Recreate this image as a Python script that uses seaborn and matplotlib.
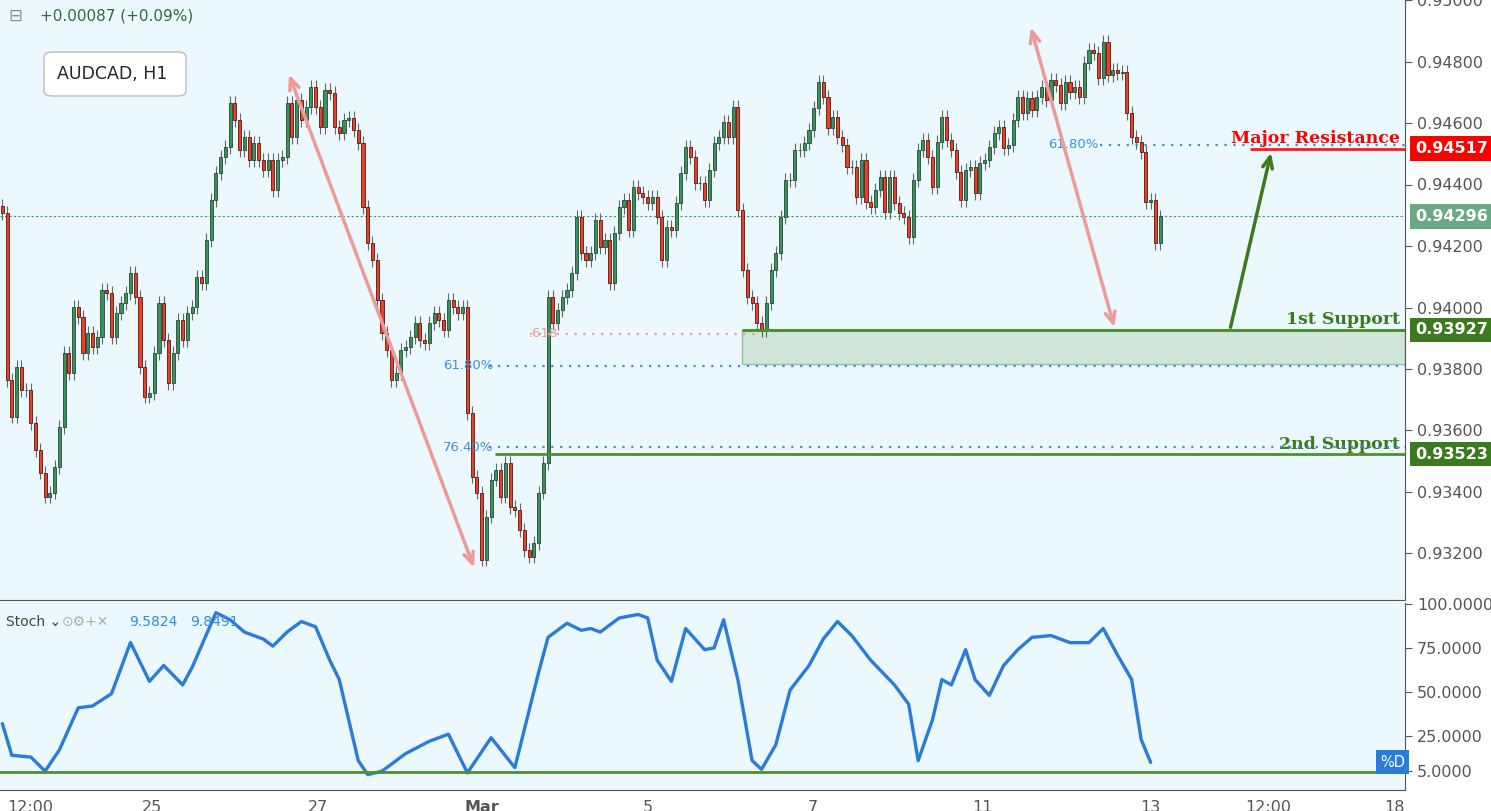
import numpy as np
import pandas as pd
import matplotlib
matplotlib.use("Agg")
import matplotlib.pyplot as plt
from matplotlib.patches import FancyBboxPatch, Rectangle
import seaborn as sns

# hourly-ish closes (AUDCAD H1), first open 0.94330
first_open = 0.94330
closes = [
    .94308, .93765, .93645, .93807, .93732, .93732, .93625, .93537, .93463, .93385,
    .93398, .93482, .93612, .93852, .93787, .94002, .93969, .93852, .93917, .93872,
    .93904, .94057, .94048, .93904, .93982, .94015, .94048, .94113, .94035, .93807,
    .93710, .93722, .93852, .94015, .93895, .93755, .93852, .93960, .93895, .93982,
    .94002, .94100, .94080, .94220, .94350, .94437, .94490, .94522, .94665, .94610,
    .94512, .94554, .94480, .94535, .94480, .94447, .94480, .94382, .94480, .94490,
    .94665, .94554, .94675, .94610, .94652, .94717, .94652, .94587, .94707, .94698,
    .94587, .94567, .94610, .94616, .94577, .94535, .94327, .94210, .94155, .94025,
    .93917, .93862, .93765, .93787, .93862, .93872, .93904, .93950, .93895, .93885,
    .93950, .93982, .93960, .93927, .94025, .94002, .93982, .94002, .93657, .93450,
    .93398, .93180, .93320, .93440, .93472, .93385, .93495, .93352, .93342, .93277,
    .93212, .93190, .93235, .93398, .93495, .94035, .93950, .93992, .94035, .94057,
    .94113,
    .94295, .94178, .94155, .94178, .94285, .94197, .94220, .94080, .94243, .94327,
    .94350, .94252, .94392, .94372, .94360, .94340, .94360, .94295, .94155, .94262,
    .94252, .94340, .94437, .94522, .94490, .94405, .94405, .94350, .94447, .94535,
    .94554, .94603, .94554, .94652, .94317, .94122, .94035, .94015, .93950, .93927,
    .94015, .94122, .94178, .94295, .94415, .94415, .94512, .94512, .94535, .94577,
    .94649, .94733, .94685, .94584, .94620, .94554, .94529, .94457, .94457, .94360,
    .94480, .94343, .94327, .94382, .94424, .94311, .94424, .94340, .94308, .94295,
    .94230, .94415, .94512, .94545, .94490, .94392, .94538, .94620, .94545, .94512,
    .94441, .94350, .94447, .94457, .94372, .94470, .94480, .94522, .94567, .94587,
    .94519, .94529, .94610, .94685, .94633, .94681, .94642, .94685, .94717, .94675,
    .94740, .94724, .94665, .94733, .94701, .94717, .94685, .94795, .94837, .94828,
    .94746, .94863, .94756, .94772, .94763, .94766, .94633, .94554, .94538, .94506,
    .94343, .94350, .94210, .94296,
]

# stochastic %K (bar index, value)
stoch_bar = [0, 2, 6, 9, 12, 16, 19, 23, 27, 31, 34, 38, 40, 45, 48, 51, 55, 57, 60, 63,
             66, 69, 71, 75, 77, 80, 85, 90, 94, 98, 103, 108, 113, 115, 119, 122, 124, 126,
             130, 134, 136, 138, 141, 144, 148, 150, 152, 155, 158, 160, 163, 166, 170, 173,
             176, 179, 183, 188, 191, 193, 196, 198, 200, 203, 205, 208, 211, 214, 217, 221,
             225, 229, 232, 235, 238, 240, 242]
stoch_val = [32, 14, 13, 5, 17, 41, 42, 49, 78, 56, 65, 54, 64, 95, 91, 84, 80, 76, 84, 90,
             87, 68, 57, 11, 3, 5, 15, 22, 26, 4, 24, 7, 61, 81, 89, 85, 86, 84,
             92, 94, 92, 68, 56, 86, 74, 75, 91, 57, 11, 6, 20, 51, 65, 80,
             90, 82, 68, 54, 43, 11, 34, 57, 54, 74, 57, 48, 65, 74, 81, 82,
             78, 78, 86, 71, 57, 23, 10]

tick_pos = [6.3, 32.0, 67.0, 101.6, 136.6, 171.3, 207.0, 242.4, 267.2, 293.8]
tick_lab = ["12:00", "25", "27", "Mar", "5", "7", "11", "13", "12:00", "18"]

price_ticks = [0.932, 0.934, 0.936, 0.938, 0.940, 0.942, 0.944, 0.946, 0.948, 0.950]
last_price = 0.94296
resistance = 0.94517
support1 = 0.93927
support2 = 0.93523
zone_low = 0.93815
fib618_low = 0.93810
fib764_low = 0.93545
fib618_high = 0.94530

bg = "#ebf8fe"
green = "#3d8f5f"
red = "#e5412b"
dkgreen = "#3b7a1f"
pink = "#ee9a9a"
blue = "#3f8fd6"

sns.set_style("white")
plt.rcParams["font.family"] = ["DejaVu Sans"]

fig = plt.figure(figsize=(14.91, 8.11), dpi=100)
fig.patch.set_facecolor("white")
ax = fig.add_axes([0, 1 - 600 / 811, 1405 / 1491, 600 / 811])
ax2 = fig.add_axes([0, 1 - 790 / 811, 1405 / 1491, 187 / 811], sharex=ax)
for a in (ax, ax2):
    a.set_facecolor(bg)
    for s in ["top", "left"]:
        a.spines[s].set_visible(False)
    a.spines["right"].set_color("#555555")
    a.spines["bottom"].set_color("#555555")

df = pd.DataFrame({"close": closes})
df["open"] = [first_open] + closes[:-1]
df["x"] = np.arange(len(df)) + 0.5
wick = 0.00022
df["high"] = df[["open", "close"]].max(axis=1) + wick
df["low"] = df[["open", "close"]].min(axis=1) - wick
up = df["close"] >= df["open"]

ax.vlines(df["x"], df["low"], df["high"], color="#666666", lw=0.8, zorder=2)
ax.bar(df["x"][up], (df["close"] - df["open"])[up], bottom=df["open"][up], width=0.65,
       color=green, edgecolor="#1f4d2f", lw=0.6, zorder=3)
ax.bar(df["x"][~up], (df["close"] - df["open"])[~up], bottom=df["open"][~up], width=0.65,
       color=red, edgecolor="#5a140c", lw=0.6, zorder=3)

xmax = 296.1
ax.set_xlim(0, xmax)
ax.set_ylim(0.95 - 600 / 30750, 0.95)

# levels
ax.axhline(last_price, color="#3f9a5f", lw=0.8, ls=(0, (2, 2)), zorder=1)
ax.add_patch(Rectangle((156.4, zone_low), xmax - 156.4, support1 - zone_low,
                       facecolor="#cfe6d8", edgecolor="#98bf9f", lw=1, zorder=1))
ax.hlines(support1, 156.4, xmax, color="#4f8f2f", lw=2.2, zorder=4)
ax.hlines(support2, 104.3, xmax, color="#4f8f2f", lw=2.0, zorder=4)
ax.hlines(fib618_low, 103.0, xmax, color=blue, lw=1.6, ls=(0, (1, 3)), zorder=4)
ax.hlines(fib764_low, 103.0, xmax, color=blue, lw=1.6, ls=(0, (1, 3)), zorder=4)
ax.hlines(0.93915, 111.7, 160.0, color=pink, lw=1.6, ls=(0, (1, 3)), zorder=4)
ax.hlines(fib618_high, 231.8, xmax, color=blue, lw=1.6, ls=(0, (1, 3)), zorder=4)
ax.hlines(resistance, 263.4, xmax, color="#ff1a1a", lw=2.0, zorder=4)
ax.text(93.4, fib618_low, "61.80%", color=blue, fontsize=9.5, va="center", ha="left")
ax.text(93.4, fib764_low, "76.40%", color=blue, fontsize=9.5, va="center", ha="left")
ax.text(220.9, fib618_high, "61.80%", color=blue, fontsize=9.5, va="center", ha="left")
ax.text(111.5, 0.93915, ".618", color=pink, fontsize=9.5, va="center", ha="left")

ax.text(295, resistance + 0.00005, "Major Resistance", color="#ff0000", fontsize=12.5,
        fontweight="bold", family="DejaVu Serif", ha="right", va="bottom")
ax.text(295, support1 + 0.00005, "1st Support", color=dkgreen, fontsize=12.5,
        fontweight="bold", family="DejaVu Serif", ha="right", va="bottom")
ax.text(295, support2 + 0.00005, "2nd Support", color=dkgreen, fontsize=12.5,
        fontweight="bold", family="DejaVu Serif", ha="right", va="bottom")

# arrows
arr = dict(arrowstyle="<|-|>,head_length=0.9,head_width=0.35", color=pink, lw=2.5)
ax.annotate("", xy=(60.7, 0.94766), xytext=(100.1, 0.93146), arrowprops=dict(
    arrowstyle="<->,head_length=0.8,head_width=0.35", color=pink, lw=2.5))
ax.annotate("", xy=(217.1, 0.94919), xytext=(235.0, 0.93927), arrowprops=dict(
    arrowstyle="<->,head_length=0.8,head_width=0.35", color=pink, lw=2.5))
ax.annotate("", xy=(268.0, 0.94512), xytext=(259.2, 0.93927), arrowprops=dict(
    arrowstyle="->,head_length=0.8,head_width=0.35", color="#3d7a1f", lw=2.5))

# price axis
ax.yaxis.tick_right()
ax.set_yticks(price_ticks)
ax.set_yticklabels([f"{p:.5f}" for p in price_ticks])
ax.tick_params(axis="y", colors="#555555", labelsize=11.5, length=5, direction="out")
ax.tick_params(axis="x", bottom=False, labelbottom=False)
for lvl, col, tc in [(resistance, "#ff0000", "white"), (last_price, "#6aa886", "white"),
                     (support1, "#3b7a1f", "white"), (support2, "#3b7a1f", "white")]:
    ax.text(1.007, lvl, f"{lvl:.5f}", transform=ax.get_yaxis_transform(), color=tc,
            fontsize=11.5, fontweight="bold", va="center", ha="left", clip_on=False,
            bbox=dict(boxstyle="square,pad=0.3", facecolor=col, edgecolor="none"))

# header
fig.text(0.027, 1 - 16 / 811, "+0.00087 (+0.09%)", color="#2f6b3a", fontsize=11, va="center")
fig.text(0.006, 1 - 16 / 811, "⊟", color="#888888", fontsize=12, va="center")
fig.patches.append(FancyBboxPatch((44 / 1491, 1 - 96 / 811), 142 / 1491, 44 / 811,
                                  boxstyle="round,pad=0,rounding_size=0.006",
                                  transform=fig.transFigure, facecolor="white",
                                  edgecolor="#bbbbbb", lw=1, zorder=5))
fig.text(57 / 1491, 1 - 74 / 811, "AUDCAD, H1", fontsize=12.5, va="center", zorder=6)

# stochastic pane
sdf = pd.DataFrame({"bar": np.array(stoch_bar) + 0.5, "k": stoch_val})
sns.lineplot(data=sdf, x="bar", y="k", ax=ax2, color="#2b7bd8", lw=2.4)
ax2.axhline(4.5, color="#4f8f2f", lw=2)
ax2.set_ylim(-5.7, 100.5)
ax2.yaxis.tick_right()
ax2.set_yticks([5, 25, 50, 75, 100])
ax2.set_yticklabels(["5.0000", "25.0000", "50.0000", "75.0000", "100.0000"])
ax2.tick_params(axis="y", colors="#555555", labelsize=11.5, length=5)
ax2.set_xlabel("")
ax2.set_ylabel("")
ax2.set_xticks(tick_pos)
ax2.set_xticklabels(tick_lab)
ax2.tick_params(axis="x", colors="#555555", labelsize=11.5, length=4)
for t in ax2.get_xticklabels():
    if t.get_text() == "Mar":
        t.set_fontweight("bold")
ax2.set_xlim(0, xmax)
ax2.text(1.0, 10, "%D", transform=ax2.get_yaxis_transform(), ha="right", va="center",
         color="white", fontsize=10.5,
         bbox=dict(boxstyle="square,pad=0.3", facecolor="#2b7bd8", edgecolor="none"))
ax2.text(0.004, 0.9, "Stoch ⌄", transform=ax2.transAxes, fontsize=10, color="#444444", va="center")
ax2.text(0.044, 0.9, "⊙⚙+✕", transform=ax2.transAxes, fontsize=10, color="#aaaaaa", va="center")
ax2.text(0.092, 0.9, "9.5824", transform=ax2.transAxes, fontsize=10, color="#2b8ee0", va="center")
ax2.text(0.135, 0.9, "9.8491", transform=ax2.transAxes, fontsize=10, color="#2b8ee0", va="center")

fig.savefig("out.png", dpi=100, facecolor="white")
